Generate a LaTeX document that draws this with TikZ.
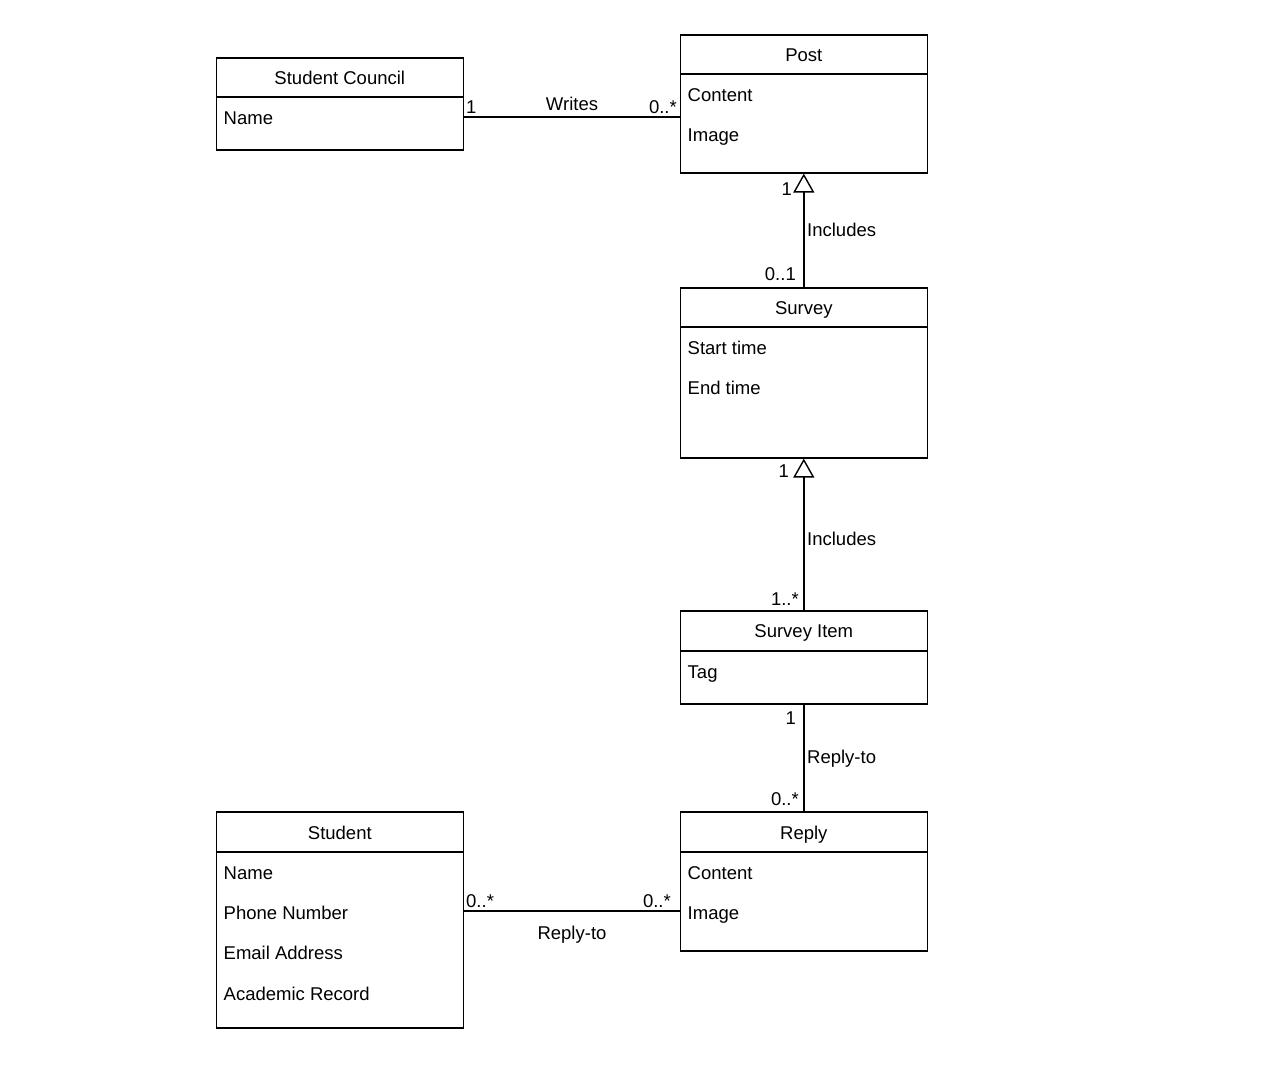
\documentclass[tikz,border=0pt]{standalone}
\usepackage{fontspec}
\setmainfont{Liberation Sans}
\usetikzlibrary{arrows.meta,calc}
\newcommand\umlfont{\fontsize{18.5}{22}\selectfont}
\begin{document}
\begin{tikzpicture}[x=1pt,y=-1pt,
  cls/.style={draw,line width=1.6pt,minimum width=247pt,inner sep=0pt,anchor=north west},
  ttl/.style={font=\umlfont,anchor=base,inner sep=0pt},
  attr/.style={font=\umlfont,anchor=base west,inner sep=0pt},
  lbl/.style={font=\umlfont,inner sep=0pt},
  conn/.style={line width=1.7pt},
  gen/.style={conn,-{Triangle[open,width=21pt,length=19pt,line width=1.4pt]}}
]
\fill[white] (0,0) rectangle (1280,1089);
\path[use as bounding box] (0,0) rectangle (1280,1089);

% Student Council
\node[cls,minimum height=92pt] (sc) at (215.5,57) {};
\draw[conn] ($(sc.north west)+(0,40)$) -- ($(sc.north east)+(0,40)$);
\node[ttl] (sct) at ($(sc.north)+(0,27.5)$) {Student Council};
\node[attr] (sca1) at ($(sc.north west)+(8,67.5)$) {Name};

% Post
\node[cls,minimum height=138pt] (post) at (679.5,34) {};
\draw[conn] ($(post.north west)+(0,40)$) -- ($(post.north east)+(0,40)$);
\node[ttl] (postt) at ($(post.north)+(0,27.5)$) {Post};
\node[attr] (posta1) at ($(post.north west)+(8,67.5)$) {Content};
\node[attr] (posta2) at ($(post.north west)+(8,107.5)$) {Image};

% Survey
\node[cls,minimum height=170pt] (survey) at (679.5,287) {};
\draw[conn] ($(survey.north west)+(0,40)$) -- ($(survey.north east)+(0,40)$);
\node[ttl] (surveyt) at ($(survey.north)+(0,27.5)$) {Survey};
\node[attr] (surveya1) at ($(survey.north west)+(8,67.5)$) {Start time};
\node[attr] (surveya2) at ($(survey.north west)+(8,107.5)$) {End time};

% Survey Item
\node[cls,minimum height=93pt] (item) at (679.5,610) {};
\draw[conn] ($(item.north west)+(0,41)$) -- ($(item.north east)+(0,41)$);
\node[ttl] (itemt) at ($(item.north)+(0,27.5)$) {Survey Item};
\node[attr] (itema1) at ($(item.north west)+(8,68.5)$) {Tag};

% Student
\node[cls,minimum height=216pt] (stu) at (215.5,811) {};
\draw[conn] ($(stu.north west)+(0,41)$) -- ($(stu.north east)+(0,41)$);
\node[ttl] (stut) at ($(stu.north)+(0,28.5)$) {Student};
\node[attr] (stua1) at ($(stu.north west)+(8,68.5)$) {Name};
\node[attr] (stua2) at ($(stu.north west)+(8,108.5)$) {Phone Number};
\node[attr] (stua3) at ($(stu.north west)+(8,148.5)$) {Email Address};
\node[attr] (stua4) at ($(stu.north west)+(8,189.5)$) {Academic Record};

% Reply
\node[cls,minimum height=139pt] (reply) at (679.5,811) {};
\draw[conn] ($(reply.north west)+(0,41)$) -- ($(reply.north east)+(0,41)$);
\node[ttl] (replyt) at ($(reply.north)+(0,28.5)$) {Reply};
\node[attr] (replya1) at ($(reply.north west)+(8,68.5)$) {Content};
\node[attr] (replya2) at ($(reply.north west)+(8,108.5)$) {Image};

% Connectors
\draw[conn] ($(sc.north east)+(0,60)$) -- ($(post.north west)+(0,83)$);
\node[lbl,anchor=base west] (w1) at (466,113.6) {1};
\node[lbl,anchor=base] (w2) at (572,110.5) {Writes};
\node[lbl,anchor=base east] (w3) at (677,113.6) {0..*};

\draw[gen] (survey.north) -- (post.south);
\node[lbl,anchor=base east] (i1) at (792,195.6) {1};
\node[lbl,anchor=base west] (i2) at (807,236.6) {Includes};
\node[lbl,anchor=base east] (i3) at (796,280.6) {0..1};

\draw[gen] (item.north) -- (survey.south);
\node[lbl,anchor=base east] (j1) at (789,477.6) {1};
\node[lbl,anchor=base west] (j2) at (807,545.6) {Includes};
\node[lbl,anchor=base east] (j3) at (799,605) {1..*};

\draw[conn] (item.south) -- (reply.north);
\node[lbl,anchor=base east] (k1) at (796,724.6) {1};
\node[lbl,anchor=base west] (k2) at (807,763.6) {Reply-to};
\node[lbl,anchor=base east] (k3) at (799,805) {0..*};

\draw[conn] ($(stu.north east)+(0,100)$) -- ($(reply.north west)+(0,100)$);
\node[lbl,anchor=base west] (m1) at (466,907.6) {0..*};
\node[lbl,anchor=base] (m2) at (572,939.6) {Reply-to};
\node[lbl,anchor=base east] (m3) at (671,907.6) {0..*};
\end{tikzpicture}
\end{document}
